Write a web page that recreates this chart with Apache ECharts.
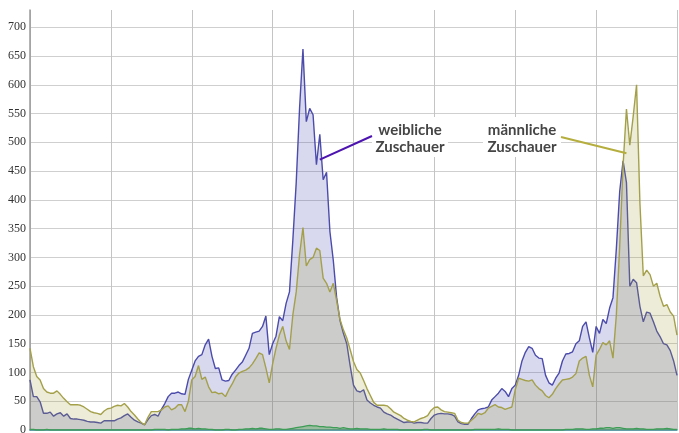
<!DOCTYPE html>
<html>
<head>
<meta charset="utf-8">
<script src="https://cdn.jsdelivr.net/npm/echarts@6/dist/echarts.min.js"></script>
<style>
  html, body { margin: 0; padding: 0; background: #fff; }
  #chart { width: 679px; height: 433px; }
</style>
</head>
<body>
<div id="chart"></div>
<script>
// Zuschauer pro Zeitpunkt
const weiblich = [
  87, 58, 58, 49, 29, 29, 31, 24, 28, 30,
  24, 28, 20, 19, 19, 18, 17, 15, 14, 14,
  13, 12, 16, 16, 16, 16, 19, 21, 25, 28,
  22, 17, 14, 12, 9, 18, 25, 27, 24, 36,
  46, 58, 64, 64, 66, 63, 62, 88, 104, 120,
  128, 131, 148, 158, 128, 107, 108, 87, 85, 86,
  97, 104, 112, 118, 130, 142, 168, 170, 172, 180,
  198, 131, 150, 163, 197, 190, 220, 240, 330, 430,
  560, 662, 536, 559, 548, 461, 514, 435, 448, 345,
  295, 230, 190, 168, 150, 112, 78, 68, 66, 70,
  52, 47, 43, 40, 38, 31, 28, 26, 22, 19,
  16, 13, 14, 14, 12, 13, 13, 12, 12, 20,
  26, 28, 29, 28, 28, 27, 24, 14, 11, 10,
  10, 20, 28, 35, 37, 38, 40, 52, 58, 64,
  72, 67, 58, 72, 78, 95, 120, 135, 145, 142,
  130, 125, 124, 95, 82, 78, 90, 99, 120, 132,
  133, 136, 150, 155, 180, 188, 160, 135, 180, 168,
  192, 185, 212, 230, 315, 415, 468, 430, 250, 262,
  256, 215, 188, 205, 203, 188, 172, 162, 150, 148,
  138, 120, 95
]
const maennlich = [
  142, 110, 93, 87, 72, 66, 64, 64, 68, 62,
  55, 49, 44, 44, 44, 43, 40, 36, 32, 30,
  29, 27, 33, 37, 38, 41, 43, 42, 46, 40,
  32, 26, 19, 13, 9, 22, 32, 32, 32, 35,
  40, 42, 35, 38, 44, 44, 32, 50, 87, 93,
  112, 88, 92, 75, 65, 66, 63, 64, 58, 70,
  80, 92, 99, 102, 104, 108, 115, 124, 134, 131,
  108, 82, 115, 142, 165, 180, 155, 140, 200, 240,
  305, 352, 285, 296, 300, 316, 312, 264, 255, 240,
  255, 225, 192, 174, 160, 140, 119, 105, 99, 86,
  72, 60, 48, 43, 43, 43, 42, 37, 31, 28,
  25, 20, 17, 15, 14, 17, 20, 22, 25, 34,
  39, 40, 35, 32, 31, 30, 29, 17, 13, 12,
  12, 17, 22, 29, 27, 30, 38, 41, 44, 40,
  39, 36, 38, 40, 70, 90, 88, 86, 85, 87,
  78, 72, 68, 60, 56, 62, 72, 80, 87, 88,
  89, 92, 98, 120, 125, 128, 95, 75, 130, 140,
  152, 148, 155, 125, 200, 320, 460, 558, 495, 545,
  600, 394, 268, 278, 270, 250, 255, 232, 215, 218,
  205, 198, 165
]
const sonstige = [
  1, 1, 0, 0, 0, 1, 0, 0, 0, 0,
  0, 0, 0, 0, 0, 0, 0, 0, 0, 0,
  0, 0, 0, 0, 0, 0, 0, 0, 0, 0,
  0, 0, 0, 0, 0, 0, 0, 1, 1, 1,
  1, 0, 1, 1, 1, 2, 2, 3, 3, 2,
  3, 2, 2, 1, 1, 0, 0, 0, 1, 1,
  0, 0, 1, 1, 2, 2, 3, 2, 3, 3,
  2, 1, 1, 2, 2, 1, 1, 2, 3, 4,
  5, 6, 7, 8, 7, 7, 6, 6, 5, 5,
  4, 4, 3, 4, 3, 2, 2, 3, 2, 2,
  2, 1, 1, 1, 1, 2, 1, 1, 1, 1,
  0, 0, 0, 0, 0, 0, 0, 1, 1, 0,
  0, 0, 0, 0, 0, 0, 0, 0, 0, 0,
  0, 0, 1, 1, 1, 1, 1, 1, 1, 2,
  1, 1, 1, 0, 0, 0, 0, 0, 0, 0,
  0, 0, 0, 0, 0, 0, 0, 0, 0, 1,
  1, 1, 2, 2, 2, 1, 1, 2, 2, 3,
  3, 4, 4, 3, 4, 4, 3, 2, 2, 2,
  3, 2, 2, 1, 1, 1, 2, 2, 2, 3,
  2, 1, 1
]
const zeitpunkte = weiblich.map((v, i) => i)
const gitterAbstand = 24

// Beschriftungen: Text, Punkt auf der Kurve [index, wert]
const labelWeiblich = { text: 'weibliche\nZuschauer', punkt: [86, 470] }
const labelMaennlich = { text: 'männliche\nZuschauer', punkt: [177, 481] }

const chart = echarts.init(document.getElementById('chart'))

const option = {
  animation: false,
  backgroundColor: '#fff',
  grid: {
    left: 30,
    right: 2,
    top: 10,
    bottom: 3,
    containLabel: false,
    outerBoundsMode: 'none'
  },
  xAxis: {
    type: 'category',
    boundaryGap: false,
    data: zeitpunkte,
    axisLine: { show: true, lineStyle: { color: '#3f8f9c', width: 1.5 } },
    axisTick: { show: false },
    axisLabel: { show: false },
    splitLine: {
      show: true,
      interval: function (idx) { return idx % gitterAbstand === 0 },
      lineStyle: { color: '#c4c4c4', width: 1 }
    }
  },
  yAxis: {
    type: 'value',
    min: 0,
    max: 730,
    interval: 50,
    axisLine: { show: true, lineStyle: { color: '#9a9a9a', width: 1.5 } },
    axisTick: { show: false },
    axisLabel: {
      showMaxLabel: false,
      margin: 4,
      color: '#333',
      fontFamily: "'Liberation Serif', 'DejaVu Serif', serif",
      fontSize: 12
    },
    splitLine: {
      show: true,
      showMaxLine: false,
      lineStyle: { color: '#cfcfcf', width: 1 }
    }
  },
  series: [
    {
      name: 'weibliche Zuschauer',
      type: 'line',
      data: weiblich,
      symbol: 'none',
      lineStyle: { color: '#4b4bab', width: 1.4 },
      areaStyle: { color: 'rgb(60, 60, 170)', opacity: 0.2 },
      z: 2
    },
    {
      name: 'männliche Zuschauer',
      type: 'line',
      data: maennlich,
      symbol: 'none',
      lineStyle: { color: '#a4a04a', width: 1.4 },
      areaStyle: { color: 'rgb(160, 160, 60)', opacity: 0.2 },
      z: 3
    },
    {
      name: 'sonstige',
      type: 'line',
      data: sonstige,
      symbol: 'none',
      lineStyle: { color: '#3d9c55', width: 1.3 },
      areaStyle: { color: 'rgb(60, 160, 80)', opacity: 0.35 },
      z: 4
    }
  ]
}

chart.setOption(option)

// Beschriftungen mit weissem Kasten und Zeigerlinie
function beschriftung (label, box, start, farbe) {
  const ziel = chart.convertToPixel({ seriesIndex: 0 }, label.punkt)
  return [
    {
      type: 'rect',
      shape: { x: box[0], y: box[1], width: box[2], height: box[3] },
      style: { fill: '#fff' },
      z: 10
    },
    {
      type: 'text',
      x: box[0] + box[2] / 2,
      y: box[1] + 5,
      style: {
        text: label.text,
        fill: '#454545',
        font: 'bold 15px Lato',
        align: 'center',
        verticalAlign: 'top',
        lineHeight: 17
      },
      z: 11
    },
    {
      type: 'line',
      shape: { x1: start[0], y1: start[1], x2: ziel[0], y2: ziel[1] },
      style: { stroke: farbe, lineWidth: 2 },
      z: 12
    }
  ]
}

chart.setOption({
  graphic: [].concat(
    beschriftung(labelWeiblich, [372, 117, 76, 40], [372, 136], '#4c13b0'),
    beschriftung(labelMaennlich, [483, 117, 78, 40], [561, 137], '#b5ae3e')
  )
})
</script>
</body>
</html>
